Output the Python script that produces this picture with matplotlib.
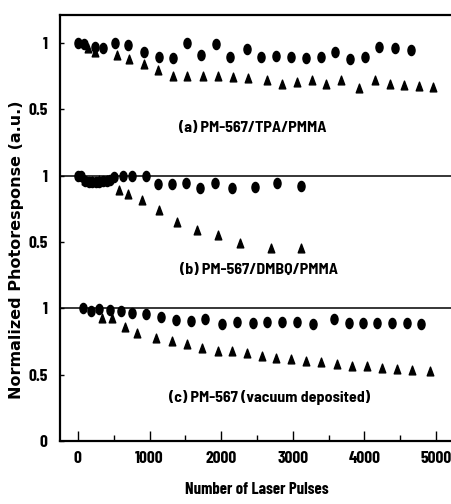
import matplotlib
matplotlib.use('Agg')
import matplotlib.pyplot as plt
from matplotlib.path import Path
from matplotlib.transforms import Affine2D
from matplotlib.ticker import MultipleLocator

# (a) PM-567/TPA/PMMA
a_circ_x = [0, 90, 240, 350, 520, 700, 920, 1130, 1330, 1520, 1720, 1930, 2120, 2360, 2560,
            2770, 2980, 3190, 3400, 3590, 3800, 4010, 4210, 4430, 4650]
a_circ_y = [1.0, 0.995, 0.97, 0.962, 1.0, 0.987, 0.93, 0.893, 0.886, 1.0, 0.906, 0.995, 0.898,
            0.957, 0.895, 0.9, 0.898, 0.887, 0.898, 0.935, 0.877, 0.895, 0.97, 0.965, 0.945]
a_tri_x = [140, 240, 540, 710, 920, 1120, 1330, 1530, 1750, 1960, 2160, 2370, 2640, 2850, 3060,
           3270, 3470, 3670, 3930, 4150, 4360, 4560, 4770, 4960]
a_tri_y = [0.962, 0.931, 0.912, 0.882, 0.839, 0.80, 0.748, 0.748, 0.748, 0.748, 0.743, 0.736,
           0.718, 0.693, 0.706, 0.718, 0.688, 0.724, 0.663, 0.718, 0.693, 0.681, 0.673, 0.668]

# (b) PM-567/DMBQ/PMMA
b_circ_x = [0, 50, 100, 150, 200, 250, 300, 350, 400, 450, 500, 630, 760, 950, 1120, 1320, 1510,
            1710, 1920, 2150, 2470, 2780, 3120]
b_circ_y = [1.0, 1.0, 0.96, 0.95, 0.955, 0.955, 0.955, 0.96, 0.96, 0.965, 0.99, 0.995, 0.995,
            1.0, 0.94, 0.94, 0.945, 0.905, 0.945, 0.91, 0.915, 0.945, 0.92]
b_tri_x = [100, 200, 300, 400, 570, 700, 890, 1130, 1380, 1670, 1950, 2260, 2690, 3120]
b_tri_y = [0.965, 0.96, 0.965, 0.965, 0.895, 0.865, 0.82, 0.74, 0.652, 0.589, 0.549, 0.493,
           0.451, 0.456]

# (c) PM-567 (vacuum deposited)
c_circ_x = [70, 190, 300, 450, 600, 750, 950, 1160, 1370, 1580, 1780, 2010, 2220, 2440, 2640,
            2850, 3060, 3280, 3570, 3780, 3980, 4180, 4390, 4590, 4790]
c_circ_y = [0.999, 0.981, 0.994, 0.986, 0.981, 0.966, 0.961, 0.931, 0.911, 0.906, 0.916, 0.881,
            0.898, 0.886, 0.894, 0.898, 0.898, 0.881, 0.916, 0.886, 0.886, 0.886, 0.886, 0.886,
            0.879]
c_tri_x = [330, 480, 660, 830, 1090, 1310, 1520, 1740, 1950, 2150, 2360, 2570, 2770, 2980, 3190,
           3400, 3620, 3830, 4040, 4250, 4460, 4670, 4910]
c_tri_y = [0.926, 0.926, 0.858, 0.811, 0.773, 0.752, 0.732, 0.70, 0.676, 0.676, 0.664, 0.638,
           0.623, 0.617, 0.604, 0.595, 0.583, 0.569, 0.562, 0.553, 0.544, 0.538, 0.525]

panels = [
    ('(a) PM-567/TPA/PMMA', 2, a_circ_x, a_circ_y, a_tri_x, a_tri_y),
    ('(b) PM-567/DMBQ/PMMA', 1, b_circ_x, b_circ_y, b_tri_x, b_tri_y),
    ('(c) PM-567 (vacuum deposited)', 0, c_circ_x, c_circ_y, c_tri_x, c_tri_y),
]
label_pos = [(2440, 2.36), (2530, 1.29), (2670, 0.33)]

ytick_vals = [0, 0.5, 1, 1.5, 2, 2.5, 3]
ytick_labels = ['0', '0.5', '1', '0.5', '1', '0.5', '1']

# condensed bold faces like the scanned figure, plain fallbacks after them
narrow = ['Barlow Condensed', 'Liberation Sans', 'DejaVu Sans']
semi = ['Barlow Semi Condensed', 'Liberation Sans', 'DejaVu Sans']

# tall oval and narrow triangle markers
oval = Path.unit_circle().transformed(Affine2D().scale(0.7, 1.0))
tri = Path([(0, 1), (-0.75, -1), (0.75, -1), (0, 1)],
           [Path.MOVETO, Path.LINETO, Path.LINETO, Path.CLOSEPOLY])

fig = plt.figure(figsize=(4.51, 5.04), dpi=100)
ax = fig.add_axes([0.133, 0.125, 0.867, 0.845])

for (name, off, cx, cy, tx, ty), (lx, ly) in zip(panels, label_pos):
    ax.plot(tx, [v + off for v in ty], linestyle='none', marker=tri, ms=6.3, color='black')
    ax.plot(cx, [v + off for v in cy], linestyle='none', marker=oval, ms=7.3, color='black')
    ax.text(lx, ly, name, ha='center', va='center', fontsize=11.5, fontweight='bold',
            family=semi)

for yl in [1, 2]:
    ax.axhline(yl, color='black', lw=1.1)

ax.set_xlim(-250, 5210)
ax.set_ylim(0, 3.21)
ax.set_yticks(ytick_vals)
ax.set_yticklabels(ytick_labels)
ax.xaxis.set_major_locator(MultipleLocator(1000))
ax.xaxis.set_minor_locator(MultipleLocator(500))
ax.tick_params(axis='x', which='major', direction='in', length=7, width=1, pad=7)
ax.tick_params(axis='x', which='minor', direction='in', length=4, width=1)
ax.tick_params(axis='y', direction='in', length=3, width=1, pad=9)
for lab in ax.get_xticklabels() + ax.get_yticklabels():
    lab.set_family(narrow)
    lab.set_fontweight('bold')
    lab.set_fontsize(12.5)

ax.spines['right'].set_visible(False)
for s in ['left', 'top', 'bottom']:
    ax.spines[s].set_linewidth(1.6)

fig.text(257 / 451, 1 - 490 / 504, 'Number of Laser Pulses', ha='center', va='center',
         family=narrow, fontweight='bold', fontsize=12)
fig.text(17 / 451, 1 - 250 / 504, 'Normalized Photoresponse (a.u.)', ha='center',
         va='center', rotation=90, family='DejaVu Sans', fontweight='bold', fontsize=11.5)

fig.savefig('out.png', dpi=100)
